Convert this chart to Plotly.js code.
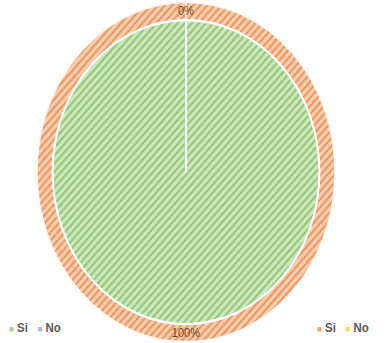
<!DOCTYPE html>
<html>
<head>
<meta charset="utf-8">
<script src="https://cdn.plot.ly/plotly-3.0.1.min.js"></script>
<style>
  html, body { margin: 0; padding: 0; background: #ffffff; width: 390px; height: 343px; }
  #wrap { width: 390px; height: 343px; overflow: hidden; }
  /* chart is laid out at 390x301 and stretched vertically to fill 343px */
  #chart { width: 390px; height: 301px; transform: scaleY(1.1395); transform-origin: 0 0; }
</style>
</head>
<body>
<div id="wrap"><div id="chart"></div></div>
<script>
// Answer shares: inner pie and outer ring
const innerLabels = ['Si', 'No'];
const innerValues = [100, 0];
const outerLabels = ['Si', 'No'];
const outerValues = [100, 0];

// Slice fills (background / hatch line) and legend swatch colours
const innerBg = ['#cde8bd', '#bdd7ee'];
const innerFg = ['#92c676', '#8db4e2'];
const outerBg = ['#f9cfb2', '#ffe699'];
const outerFg = ['#ec955f', '#ffd34f'];
const innerSwatch = ['#a6d490', '#9dbfe6'];
const outerSwatch = ['#f1a57a', '#ffd54f'];

const W = 390, H = 301;
const cx = 186, cy = 151;          // pie centre, px from top-left
const R = 149;                      // outer radius, px
const HOLE = 0.895;                 // ring hole fraction
const r = R * HOLE;

function domainFor(rad) {
  return {
    x: [(cx - rad) / W, (cx + rad) / W],
    y: [(H - cy - rad) / H, (H - cy + rad) / H]
  };
}

const labelFont = '"Liberation Sans Narrow", "Liberation Sans", Arial, sans-serif';

// An empty slice puts its label on the ring's outer edge; a blank first
// line drops the visible percentage into the ring band.
const outerTemplates = outerValues.map(v =>
  v === 0 ? '\u00a0<br>%{percent:.0%}' : '%{percent:.0%}'
);

const outer = {
  type: 'pie',
  labels: outerLabels,
  values: outerValues,
  hole: HOLE,
  sort: false,
  direction: 'clockwise',
  rotation: 0,
  domain: domainFor(R),
  texttemplate: outerTemplates,
  textposition: 'inside',
  insidetextorientation: 'horizontal',
  textfont: { family: labelFont, size: 11, color: '#5a4a40' },
  marker: {
    colors: outerBg,
    line: { color: '#fff7ee', width: 1.5 },
    pattern: { shape: '/', fgcolor: outerFg, bgcolor: outerBg, size: 5, solidity: 0.4, fillmode: 'replace' }
  },
  showlegend: false,
  hoverinfo: 'label+percent'
};

const inner = {
  type: 'pie',
  labels: innerLabels,
  values: innerValues,
  sort: false,
  direction: 'clockwise',
  rotation: 0,
  domain: domainFor(r),
  textinfo: 'none',
  marker: {
    colors: innerBg,
    line: { color: '#ffffff', width: 2 },
    pattern: { shape: '/', fgcolor: innerFg, bgcolor: innerBg, size: 5, solidity: 0.4, fillmode: 'replace' }
  },
  showlegend: false,
  hoverinfo: 'label+percent'
};

// Legend rows drawn as text with coloured square swatches
function legendText(labels, swatches) {
  return labels.map((lab, i) =>
    '<span style="color:' + swatches[i] + ';font-size:8px">■</span> ' + lab
  ).join('   ');
}

const legendFont = { family: labelFont, size: 11.5, color: '#595959' };

const layout = {
  width: W,
  height: H,
  margin: { l: 0, r: 0, t: 0, b: 0 },
  paper_bgcolor: '#ffffff',
  plot_bgcolor: '#ffffff',
  showlegend: false,
  uniformtext: { minsize: 11, mode: 'show' },
  annotations: [
    {
      xref: 'paper', yref: 'paper', x: 0.018, y: 0.047, xanchor: 'left', yanchor: 'middle',
      showarrow: false, text: '<b>' + legendText(innerLabels, innerSwatch) + '</b>', font: legendFont
    },
    {
      xref: 'paper', yref: 'paper', x: 0.808, y: 0.047, xanchor: 'left', yanchor: 'middle',
      showarrow: false, text: '<b>' + legendText(outerLabels, outerSwatch) + '</b>', font: legendFont
    }
  ]
};

Plotly.newPlot('chart', [outer, inner], layout, { displayModeBar: false, staticPlot: true });
</script>
</body>
</html>
